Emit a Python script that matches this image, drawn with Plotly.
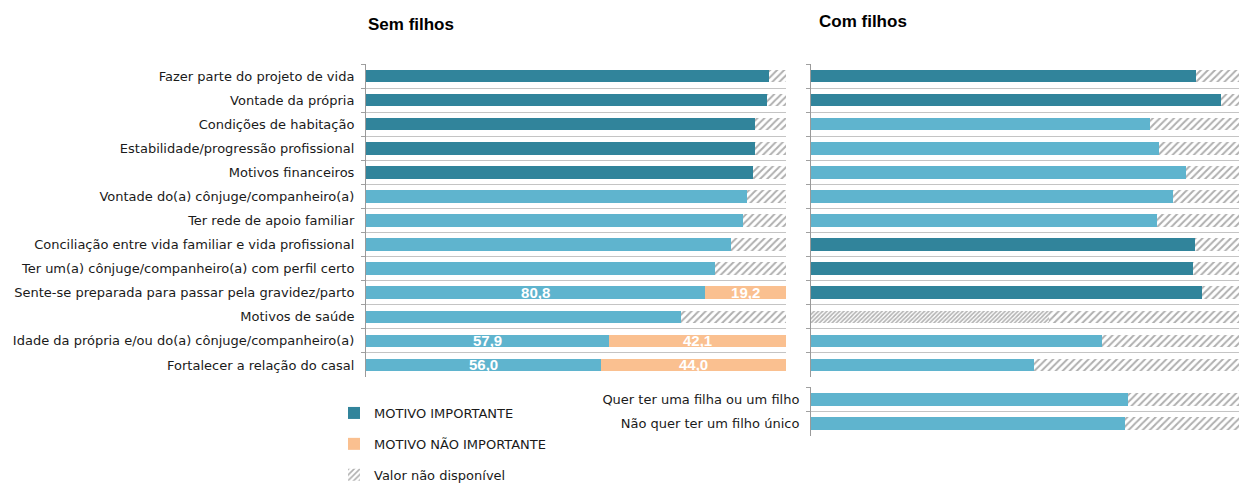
import plotly.graph_objects as go

# ---------------- data ----------------
categorias = [
    "Fazer parte do projeto de vida",
    "Vontade da própria",
    "Condições de habitação",
    "Estabilidade/progressão profissional",
    "Motivos financeiros",
    "Vontade do(a) cônjuge/companheiro(a)",
    "Ter rede de apoio familiar",
    "Conciliação entre vida familiar e vida profissional",
    "Ter um(a) cônjuge/companheiro(a) com perfil certo",
    "Sente-se preparada para passar pela gravidez/parto",
    "Motivos de saúde",
    "Idade da própria e/ou do(a) cônjuge/companheiro(a)",
    "Fortalecer a relação do casal",
]

# Sem filhos
sem_importante_escuro = [95.9, 95.4, 92.7, 92.5, 92.2, None, None, None, None, None, None, None, None]
sem_importante_claro = [None, None, None, None, None, 90.7, 89.7, 87.0, 83.2, 80.8, 75.1, 57.9, 56.0]
sem_nao_importante = [None, None, None, None, None, None, None, None, None, 19.2, None, 42.1, 44.0]

# Com filhos
com_importante_escuro = [89.9, 95.8, None, None, None, None, None, 89.7, 89.2, 91.4, None, None, None]
com_importante_claro = [None, None, 79.2, 81.3, 87.6, 84.6, 80.9, None, None, None, None, 68.0, 52.1]
com_indisponivel_denso = [None, None, None, None, None, None, None, None, None, None, 55.7, None, None]

# Com filhos - extra
categorias_extra = ["Quer ter uma filha ou um filho", "Não quer ter um filho único"]
extra_importante_claro = [74.1, 73.4]

# ---------------- styles ----------------
ESCURO = "#31849B"
CLARO = "#5FB4CE"
LARANJA = "#FAC090"
FONT = "Liberation Sans"
LFONT = "DejaVu Sans"


def soma(*listas):
    out = []
    for vals in zip(*listas):
        out.append(sum(v for v in vals if v is not None))
    return out


def resto(*listas):
    return [round(100 - s, 1) for s in soma(*listas)]


def fmt(v):
    return "" if v is None else f"{v:.1f}".replace(".", ",")


hatch = dict(shape="/", fgcolor="#606060", bgcolor="white", size=5, solidity=0.4)
hatch_denso = dict(shape="/", fgcolor="#6A6A6A", bgcolor="white", size=3, solidity=0.55)
txtfont = dict(color="white", size=15, family=FONT, weight="bold")

fig = go.Figure()
BW = 0.52

# ---- Sem filhos ----
fig.add_trace(go.Bar(y=categorias, x=sem_importante_escuro, orientation="h", width=BW,
                     marker=dict(color=ESCURO, line_width=0), name="MOTIVO IMPORTANTE",
                     legendgroup="a", legendrank=1, xaxis="x", yaxis="y"))
texto_claro = [fmt(v) if n is not None else "" for v, n in zip(sem_importante_claro, sem_nao_importante)]
fig.add_trace(go.Bar(y=categorias, x=sem_importante_claro, orientation="h", width=BW,
                     marker=dict(color=CLARO, line_width=0), showlegend=False,
                     text=texto_claro, textposition="inside", insidetextanchor="middle",
                     constraintext="none", textfont=txtfont, xaxis="x", yaxis="y"))
fig.add_trace(go.Bar(y=categorias, x=sem_nao_importante, orientation="h", width=BW,
                     marker=dict(color=LARANJA, line_width=0), name="MOTIVO NÃO IMPORTANTE",
                     legendgroup="b", legendrank=2,
                     text=[fmt(v) for v in sem_nao_importante], textposition="inside",
                     insidetextanchor="middle", constraintext="none", textfont=txtfont,
                     xaxis="x", yaxis="y"))
sem_resto = resto(sem_importante_escuro, sem_importante_claro, sem_nao_importante)
fig.add_trace(go.Bar(y=categorias, x=[v if v > 0.05 else None for v in sem_resto], orientation="h",
                     width=BW, marker=dict(color="white", pattern=hatch, line_width=0),
                     name="Valor não disponível", legendgroup="c", legendrank=3,
                     xaxis="x", yaxis="y"))

# ---- Com filhos ----
fig.add_trace(go.Bar(y=categorias, x=com_importante_escuro, orientation="h", width=BW,
                     marker=dict(color=ESCURO, line_width=0), showlegend=False,
                     xaxis="x2", yaxis="y2"))
fig.add_trace(go.Bar(y=categorias, x=com_importante_claro, orientation="h", width=BW,
                     marker=dict(color=CLARO, line_width=0), showlegend=False,
                     xaxis="x2", yaxis="y2"))
fig.add_trace(go.Bar(y=categorias, x=com_indisponivel_denso, orientation="h", width=BW,
                     marker=dict(color="white", pattern=hatch_denso, line_width=0), showlegend=False,
                     xaxis="x2", yaxis="y2"))
com_resto = resto(com_importante_escuro, com_importante_claro, com_indisponivel_denso)
fig.add_trace(go.Bar(y=categorias, x=com_resto, orientation="h", width=BW,
                     marker=dict(color="white", pattern=hatch, line_width=0), showlegend=False,
                     xaxis="x2", yaxis="y2"))

# ---- Com filhos extra ----
fig.add_trace(go.Bar(y=categorias_extra, x=extra_importante_claro, orientation="h", width=BW,
                     marker=dict(color=CLARO, line_width=0), showlegend=False,
                     xaxis="x3", yaxis="y3"))
fig.add_trace(go.Bar(y=categorias_extra, x=resto(extra_importante_claro), orientation="h", width=BW,
                     marker=dict(color="white", pattern=hatch, line_width=0), showlegend=False,
                     xaxis="x3", yaxis="y3"))

W, H = 1239, 484


def px_x(p):
    return p / W


def px_y(p):
    return 1 - p / H


xcommon = dict(range=[0, 100], showgrid=False, showticklabels=False, zeroline=False,
               showline=False, ticks="", fixedrange=True, automargin=False)
ycommon = dict(type="category", showgrid=True, gridcolor="#C4C4C4", gridwidth=1,
               tickson="boundaries", ticks="outside", ticklen=4, tickcolor="#A0A0A0",
               showline=True, linecolor="#9A9A9A", linewidth=1, zeroline=False,
               ticklabelstandoff=8, automargin=False,
               tickfont=dict(family=LFONT, size=13, color="#1A1A1A"), fixedrange=True)

fig.update_layout(
    width=W, height=H,
    margin=dict(l=0, r=0, t=0, b=0, autoexpand=False),
    paper_bgcolor="white", plot_bgcolor="white",
    barmode="stack",
    hovermode=False,
    font=dict(family=LFONT, size=13, color="#1A1A1A"),
    xaxis=dict(domain=[px_x(366), px_x(786)], anchor="y", **xcommon),
    yaxis=dict(domain=[px_y(377), px_y(64)], anchor="x", autorange=False,
               range=[len(categorias) - 0.5, -0.5], **ycommon),
    xaxis2=dict(domain=[px_x(811), 1.0], anchor="y2", **xcommon),
    yaxis2=dict(domain=[px_y(377), px_y(64)], anchor="x2", autorange=False,
                range=[len(categorias) - 0.5, -0.5], showticklabels=False, **ycommon),
    xaxis3=dict(domain=[px_x(811), 1.0], anchor="y3", **xcommon),
    yaxis3=dict(domain=[px_y(436), px_y(387)], anchor="x3", autorange=False,
                range=[len(categorias_extra) - 0.5, -0.5], **ycommon),
    showlegend=True,
    legend=dict(x=px_x(334), y=px_y(398), xanchor="left", yanchor="top",
                traceorder="grouped", tracegroupgap=11, bgcolor="rgba(0,0,0,0)",
                font=dict(family=LFONT, size=13, color="#1A1A1A"), itemwidth=30),
    annotations=[
        dict(text="<b>Sem filhos</b>", x=px_x(366), y=px_y(24), xref="paper", yref="paper",
             xanchor="left", yanchor="middle", showarrow=False,
             font=dict(family=FONT, size=17, color="black")),
        dict(text="<b>Com filhos</b>", x=px_x(817), y=px_y(21), xref="paper", yref="paper",
             xanchor="left", yanchor="middle", showarrow=False,
             font=dict(family=FONT, size=17, color="black")),
    ],
)

fig.write_html("out.html", config={"displayModeBar": False},
               post_script="document.body.style.margin='0';")
